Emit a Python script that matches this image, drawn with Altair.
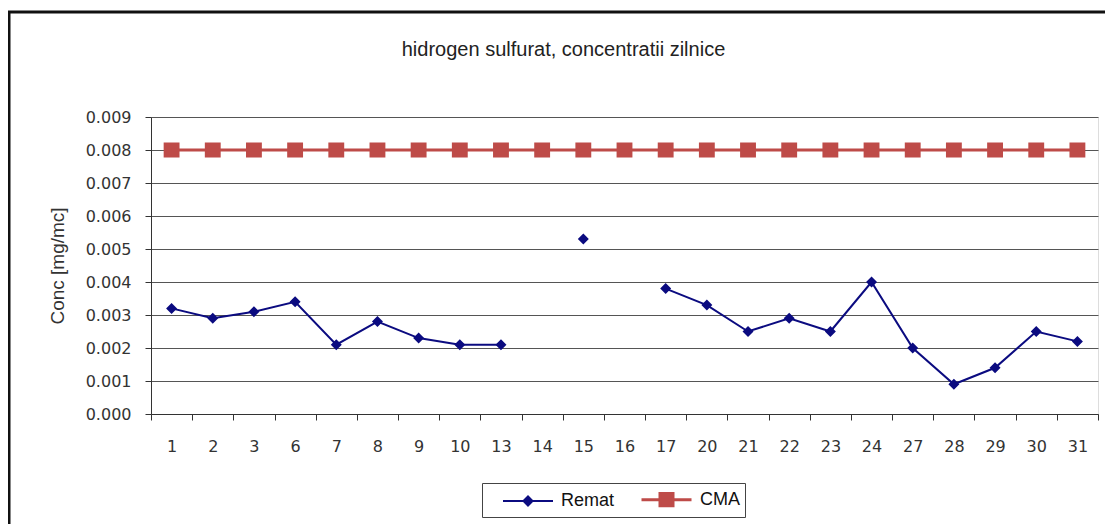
import altair as alt
import pandas as pd

days = ["1", "2", "3", "6", "7", "8", "9", "10", "13", "14", "15", "16",
        "17", "20", "21", "22", "23", "24", "27", "28", "29", "30", "31"]
remat = [0.0032, 0.0029, 0.0031, 0.0034, 0.0021, 0.0028, 0.0023, 0.0021,
         0.0021, None, 0.0053, None, 0.0038, 0.0033, 0.0025, 0.0029, 0.0025,
         0.0040, 0.0020, 0.0009, 0.0014, 0.0025, 0.0022]
cma = [0.008, 0.008, 0.008, 0.008, 0.008, 0.008, 0.008, 0.008, 0.008, 0.008,
       0.008, 0.008, 0.008, 0.008, 0.008, 0.008, 0.008, 0.008, 0.008, 0.008,
       0.008, 0.008, 0.008]
series_names = ["Remat", "CMA"]
series_colors = ["#0b0b80", "#be4b48"]
y_ticks = [0.000, 0.001, 0.002, 0.003, 0.004, 0.005, 0.006, 0.007, 0.008, 0.009]

rows = []
for d, v in zip(days, remat):
    rows.append({"day": d, "series": "Remat", "value": v})
for d, v in zip(days, cma):
    rows.append({"day": d, "series": "CMA", "value": v})
df = pd.DataFrame(rows)

# marker glyphs: a horizontal line segment plus the marker at the origin
diamond_path = "M-2.5,0H2.5M-0.45,0L0,-0.45L0.45,0L0,0.45Z"
square_path = "M-2.5,0H2.5M-0.65,-0.62H0.65V0.62H-0.65Z"

W, H = 947, 297

x_enc = alt.X(
    "day:O", sort=days, bandPosition=0.5,
    scale=alt.Scale(type="band", paddingInner=0, paddingOuter=0),
    axis=alt.Axis(title=None, labelAngle=0, tickBand="extent", grid=False,
                  tickSize=6, tickColor="#333", domainColor="#333",
                  labelFont="DejaVu Sans", labelFontSize=16, labelColor="#333",
                  labelPadding=18),
)
y_enc = alt.Y(
    "value:Q",
    scale=alt.Scale(domain=[0, 0.009], nice=False, zero=True),
    axis=alt.Axis(values=y_ticks, format=".3f", grid=True, gridColor="#555",
                  gridWidth=1, tickSize=6, tickColor="#333", domainColor="#333",
                  labelFont="DejaVu Sans", labelFontSize=16, labelColor="#333",
                  labelPadding=14, title="Conc [mg/mc]",
                  titleFont="Liberation Sans", titleFontSize=19,
                  titleFontWeight="normal", titleColor="#333", titlePadding=18),
)
color_scale = alt.Scale(domain=series_names, range=series_colors)

base = alt.Chart(df)

points = base.mark_point(filled=True, opacity=1, size=595).encode(
    x=x_enc,
    y=y_enc,
    color=alt.Color("series:N", scale=color_scale,
                    legend=alt.Legend(title="M", titleOrient="left", titlePadding=14,
                                      titleFont="Liberation Sans", titleFontSize=19,
                                      titleOpacity=0,
                                      orient="none", legendX=331, legendY=366,
                                      direction="horizontal", labelFont="Liberation Sans",
                                      labelFontSize=18, labelColor="#111",
                                      symbolSize=400, symbolStrokeWidth=2,
                                      labelOffset=22, columnPadding=20, padding=5,
                                      strokeColor="#444", fillColor="white")),
    shape=alt.Shape("series:N", scale=alt.Scale(domain=series_names,
                                                range=[diamond_path, square_path])),
)

lines = base.mark_line(invalid="break-paths-show-domains").encode(
    x=x_enc,
    y=y_enc,
    color=alt.Color("series:N", scale=color_scale),
    strokeWidth=alt.StrokeWidth("series:N",
                                scale=alt.Scale(domain=series_names, range=[2, 3]),
                                legend=None),
)

frame_src = alt.Chart(pd.DataFrame({"k": [0]}))
frame_top = frame_src.mark_rule(color="#111", strokeWidth=3).encode(
    x=alt.value(-144), x2=alt.value(970), y=alt.value(-105))
frame_left = frame_src.mark_rule(color="#111", strokeWidth=3).encode(
    x=alt.value(-142), y=alt.value(-106), y2=alt.value(420))

chart = alt.layer(points, lines, frame_top, frame_left).properties(
    width=W, height=H,
    title=alt.TitleParams("hidrogen sulfurat, concentratii zilnice",
                          font="Liberation Sans", fontSize=20, fontWeight="normal",
                          color="#222", anchor="middle", frame="group", dx=-61,
                          offset=-50),
    autosize=alt.AutoSizeParams(type="none"),
    padding={"left": 143, "top": 109, "right": 7, "bottom": 110},
).configure_view(stroke="#8a8a8a", strokeWidth=1.5).configure(background="white")

chart.save("out.html", embed_options={"renderer": "svg", "actions": False})
